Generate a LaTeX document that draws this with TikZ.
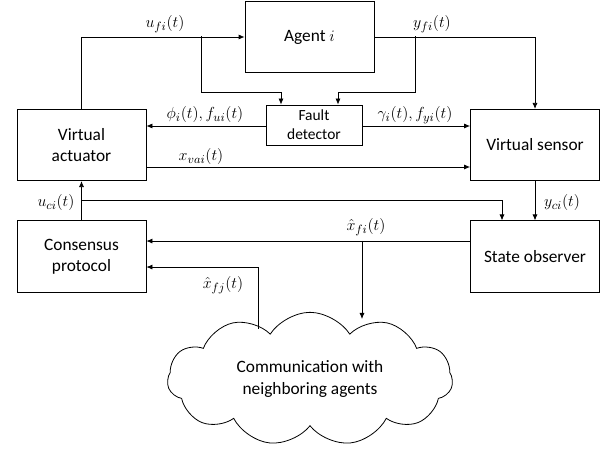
\documentclass[tikz,border=0pt]{standalone}
\usepackage{fontspec}
\setmainfont{Carlito}
\usepackage{tikz}
\usetikzlibrary{shapes,shapes.symbols,arrows.meta,positioning,calc}

\begin{document}
\begin{tikzpicture}[x=0.75pt,y=-0.75pt,
  line width=0.6pt,
  >={Latex[length=4.5pt,width=3.8pt]},
  font=\fontsize{13pt}{16pt}\selectfont,
  block/.style={draw,align=center,minimum width=96.75pt,minimum height=53.5pt,inner sep=0pt},
  small/.style={draw,align=center,minimum width=72pt,minimum height=30pt,inner sep=0pt,
    font=\fontsize{11.6pt}{14.4pt}\selectfont},
  lbl/.style={inner sep=1pt}]
\useasboundingbox (0,0) rectangle (612,449);

% Blocks
\node[block] (agent) at (309.5,37) {Agent $i$};
\node[small] (fault) at (314,125) {Fault\\detector};
\node[block] (act) at (81.5,145) {Virtual\\actuator};
\node[block] (sens) at (535,145) {Virtual sensor};
\node[block] (cons) at (81.5,256.5) {Consensus\\protocol};
\node[block] (obs) at (535,256.5) {State observer};
\node[draw,cloud,cloud puffs=11,cloud puff arc=115,aspect=2.2,
  minimum width=214pt,minimum height=100pt,align=center,
  font=\fontsize{13pt}{16.5pt}\selectfont] (cld) at (310,379)
  {Communication with\\neighboring agents};

% Branch points
\coordinate (ufb) at (201,36.5);
\coordinate (yfb) at (415,36.5);
\coordinate (ucb) at (81.5,200);
\coordinate (xfb) at (362,241);
\coordinate (xfj) at (258,329);

% Agent loop
\draw[->] (act.north) |- (agent.west);
\draw[->] (ufb) -- ++(0,55.5) -| ([xshift=-24.75pt]fault.north);
\draw[->] (agent.east) -| (sens.north);
\draw[->] (yfb) -- ++(0,55.5) -| ([xshift=18pt]fault.north);

% Fault detector outputs
\draw[->] ([yshift=-0.75pt]fault.west) -- ([yshift=-0.75pt]fault.west -| act.east);
\draw[->] ([yshift=-0.75pt]fault.east) -- ([yshift=-0.75pt]fault.east -| sens.west);
\draw[->] ([yshift=-16.5pt]act.east) -- ([yshift=-16.5pt]sens.west);

% Lower part
\draw[->] (cons.north) -- (act.south);
\draw[->] (ucb) -| ([xshift=-24.75pt]obs.north);
\draw[->] (sens.south) -- (obs.north);
\draw[->] ([yshift=11.6pt]obs.west) -- ([yshift=11.6pt]cons.east);
\draw[->] (xfb) -- ++(0,78);
\draw[->] (xfj) |- ([yshift=-7.9pt]cons.east);

% Labels
\node[lbl] (lufi) at (165,24) {$u_{fi}(t)$};
\node[lbl] (lyfi) at (432,24) {$y_{fi}(t)$};
\node[lbl] (lphi) at (205,115) {$\phi_i(t),f_{ui}(t)$};
\node[lbl] (lgam) at (415,115) {$\gamma_i(t),f_{yi}(t)$};
\node[lbl] (lxva) at (201,157) {$x_{vai}(t)$};
\node[lbl] (luci) at (56,203) {$u_{ci}(t)$};
\node[lbl] (lyci) at (562,203) {$y_{ci}(t)$};
\node[lbl] (lxfi) at (366,227) {$\hat{x}_{fi}(t)$};
\node[lbl] (lxfj) at (223,285) {$\hat{x}_{fj}(t)$};
\end{tikzpicture}
\end{document}
